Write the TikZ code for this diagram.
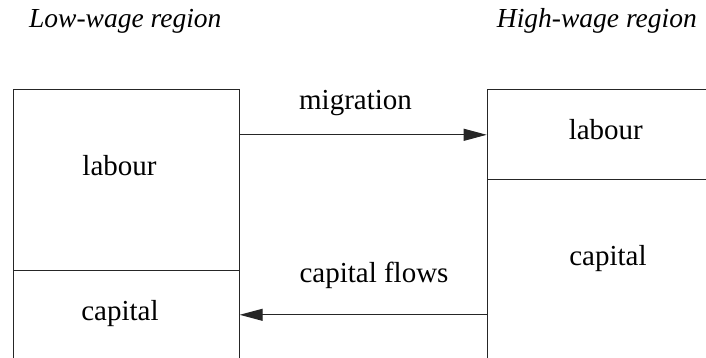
\documentclass[tikz,border=0pt]{standalone}
\usepackage{fontspec}
\setmainfont{Liberation Serif}
\usetikzlibrary{arrows.meta}
\begin{document}
\begin{tikzpicture}[x=1pt,y=-1pt,
  cell/.style={draw=black!85,line width=1pt,rectangle,inner sep=0pt,anchor=north west},
  lbl/.style={inner sep=0pt,anchor=base,font=\fontsize{29}{29}\selectfont},
  title/.style={inner sep=0pt,font=\fontsize{27.5}{27.5}\selectfont\itshape},
  flow/.style={draw=black!85,line width=1pt,-{Triangle[length=23pt,width=12pt]}}]
\useasboundingbox (0,0) rectangle (706,358);
\clip (0,0) rectangle (706,358);
% cells
\node[cell,minimum width=226pt,minimum height=180.7pt] (Llab) at (12.7,89.3) {};
\node[cell,minimum width=226pt,minimum height=88.6pt] (Lcap) at (12.7,270) {};
\node[cell,minimum width=240pt,minimum height=90pt] (Rlab) at (486.7,89.3) {};
\node[cell,minimum width=240pt,minimum height=200pt] (Rcap) at (486.7,179.3) {};
% titles
\node[title,anchor=base west] (tl) at (29,28) {Low-wage region};
\node[title,anchor=base east] (th) at (697,28) {High-wage region};
% labels
\node[lbl] (l1) at (119.5,175.7) {labour};
\node[lbl] (l2) at (120,320) {capital};
\node[lbl] (r1) at (605.8,140) {labour};
\node[lbl] (r2) at (608,265) {capital};
% flows
\draw[flow] (Llab.east |- Rlab.west) -- (Rlab.west);
\draw[flow] (Rcap.west |- Lcap.east) -- (Lcap.east);
\node[lbl] (mig) at (355.5,110) {migration};
\node[lbl] (cf) at (374,282) {capital flows};
\end{tikzpicture}
\end{document}
